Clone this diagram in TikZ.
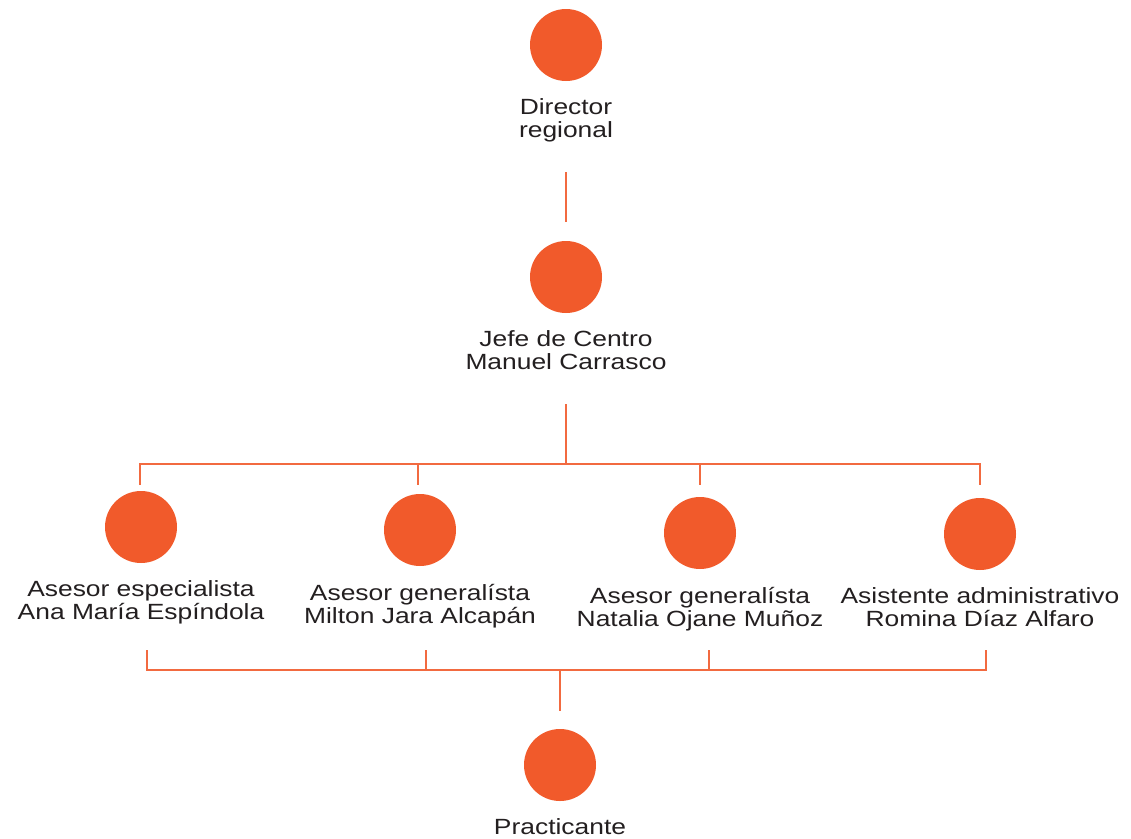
\documentclass[tikz,border=0pt]{standalone}
\usepackage{fontspec}
\setmainfont{Liberation Sans}
\newfontfamily\labelfont[FakeStretch=1.2]{Liberation Sans}
\definecolor{dot}{HTML}{F15A2B}
\definecolor{wire}{HTML}{F26A40}
\definecolor{ink}{HTML}{231F20}
\begin{document}
\begin{tikzpicture}[x=1pt,y=-1pt,
  person/.style={circle,fill=dot,draw=none,minimum size=72pt,inner sep=0pt},
  caption/.style={anchor=north,inner sep=0pt,align=center,text=ink,font=\labelfont\fontsize{22}{23.5}\selectfont},
  wireline/.style={draw=wire,line width=1.1pt}]
\useasboundingbox (0,0) rectangle (1131,838);
% people
\node[person] (dir) at (566,45) {};
\node[caption] (dirT) at (566,98) {Director\\regional};
\node[person] (jefe) at (566,277) {};
\node[caption] (jefeT) at (566,330) {Jefe de Centro\\Manuel Carrasco};
\node[person] (a1) at (141,527) {};
\node[caption] (a1T) at (141,580) {Asesor especialista\\Ana María Espíndola};
\node[person] (a2) at (420,530) {};
\node[caption] (a2T) at (420,584) {Asesor generalísta\\Milton Jara Alcapán};
\node[person] (a3) at (700,533) {};
\node[caption] (a3T) at (700,587) {Asesor generalísta\\Natalia Ojane Muñoz};
\node[person] (a4) at (980,534) {};
\node[caption] (a4T) at (980,587) {Asistente administrativo\\Romina Díaz Alfaro};
\node[person] (pr) at (560,765) {};
\node[caption] (prT) at (560,818) {Practicante};
% connector coordinates
\coordinate (c1a) at (566,172);
\coordinate (c1b) at (566,222);
\coordinate (c2a) at (566,404);
\coordinate (c2b) at (566,464);
\coordinate (h1) at (140,464);
\coordinate (h2) at (418,464);
\coordinate (h3) at (700,464);
\coordinate (h4) at (980,464);
\coordinate (d1) at (140,485);
\coordinate (d2) at (418,485);
\coordinate (d3) at (700,485);
\coordinate (d4) at (980,485);
\coordinate (u1) at (147,650);
\coordinate (u2) at (426,650);
\coordinate (u3) at (709,650);
\coordinate (u4) at (986,650);
\coordinate (b1) at (147,670);
\coordinate (b2) at (426,670);
\coordinate (b3) at (709,670);
\coordinate (b4) at (986,670);
\coordinate (bm) at (560,670);
\coordinate (bp) at (560,711);
% connectors
\draw[wireline] (c1a) -- (c1b);
\draw[wireline] (c2a) -- (c2b);
\draw[wireline] (d1) -- (h1) -- (h4) -- (d4);
\draw[wireline] (h2) -- (d2);
\draw[wireline] (h3) -- (d3);
\draw[wireline] (u1) -- (b1) -- (b4) -- (u4);
\draw[wireline] (u2) -- (b2);
\draw[wireline] (u3) -- (b3);
\draw[wireline] (bm) -- (bp);
\end{tikzpicture}
\end{document}
